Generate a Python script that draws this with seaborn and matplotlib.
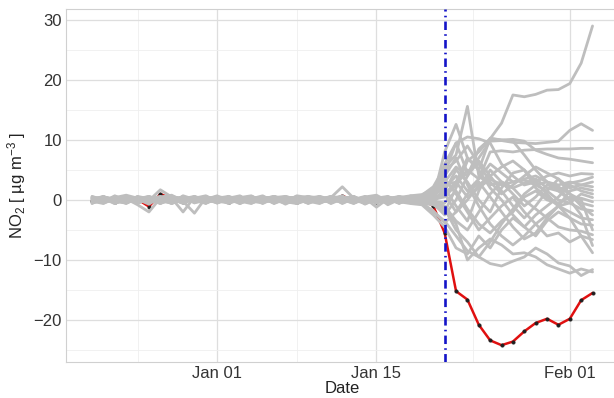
import pandas as pd
import matplotlib
matplotlib.use("Agg")
import matplotlib.pyplot as plt
import seaborn as sns

# ── Data ───────────────────────────────────────────────────────────────────────
dates = pd.date_range("2019-12-21", "2020-02-03", freq="D")
intervention_date = pd.Timestamp("2020-01-21")

x_tick_dates = ["2020-01-01 00:00", "2020-01-15 00:00", "2020-02-01 00:00"]
x_tick_labels = ["Jan 01", "Jan 15", "Feb 01"]
x_minor_dates = ["2019-12-25 00:00", "2020-01-08 00:00", "2020-01-23 12:00"]
y_ticks = [-20, -10, 0, 10, 20, 30]
y_minor = [-25, -15, -5, 5, 15, 25]

# treated city gap (red line), Dec 21 .. Feb 03
treated_gap = [
    -0.1, 0.2, -0.3, 0.4, 0.1, -1.1, 1.0, 0.2, -0.4, 0.3, -0.2,
    0.1, -0.3, 0.4, 0.0, -0.2, 0.3, 0.1, -0.4, 0.2, 0.0, -0.2, 0.7, -0.1,
    0.2, -0.3, 0.1, 0.2, -0.2, 0.1, -1.0,
    -5.5, -15.2, -16.6, -20.8, -23.4, -24.2, -23.6, -21.9, -20.5, -19.8,
    -20.8, -19.8, -16.7, -15.5,
]

# placebo gaps (grey lines): 30 pre values (Dec 21..Jan 19), Jan 20, then Jan 21..Feb 03
placebo_gaps = [
    [0.3, -0.2, 0.5, -0.4, 0.2, 0.6, -0.3, 0.1, -0.5, 0.4, 0.0, -0.3, 0.5, -0.2, 0.3,
     -0.4, 0.6, 0.1, -0.2, 0.4, -0.1, 0.3, -0.5, 0.2, 0.0, -0.3, 0.4, -0.2, 0.1, 0.3,
     0.8, 3.0, 5.5, 4.0, 8.5, 10.2, 12.8, 17.5, 17.2, 17.6, 18.3, 18.4, 19.4, 22.8, 29.0],
    [-0.4, 0.3, -0.1, 0.6, -0.5, 0.2, 0.4, -0.6, 0.3, -0.2, 0.5, 0.1, -0.4, 0.6, -0.3,
     0.2, -0.1, 0.5, -0.6, 0.0, 0.4, -0.3, 0.2, 0.6, -0.4, 0.1, -0.2, 0.5, -0.3, 0.2,
     1.2, 6.0, 9.5, 4.5, 7.0, 9.8, 9.9, 9.6, 9.5, 9.4, 9.6, 9.8, 11.6, 12.7, 11.6],
    [0.1, 0.5, -0.6, 0.2, -0.8, -2.0, 0.3, -0.4, 0.6, -0.2, 0.1, 0.7, -0.5, 0.3, -0.1,
     0.4, -0.6, 0.2, 0.5, -0.3, 0.6, 0.1, -0.4, 0.3, -0.7, 0.2, 0.4, -0.5, 0.0, -0.4,
     -0.5, 2.0, 4.0, 1.5, 3.5, 8.0, 8.2, 8.0, 8.3, 8.4, 8.5, 8.5, 8.5, 8.6, 8.6],
    [-0.2, -0.6, 0.4, 0.8, 0.3, -0.1, 1.7, 0.5, -0.3, 0.2, -0.5, 0.3, 0.6, -0.4, 0.1,
     0.5, 0.2, -0.3, 0.7, 0.4, -0.2, 0.6, 0.3, -0.1, 0.5, 0.8, -0.2, 0.3, 0.6, 0.2,
     0.3, 8.0, 12.6, 7.0, 5.0, 10.3, 10.0, 10.1, 9.8, 8.3, 7.6, 7.0, 6.8, 6.5, 6.2],
    [0.5, 0.1, -0.3, -0.5, 0.6, 0.2, -0.4, 0.3, -2.0, 0.5, -0.3, 0.2, -0.1, 0.4, 0.7,
     -0.3, 0.1, -0.5, 0.3, 0.6, -0.2, 0.4, 2.2, 0.3, -0.6, 0.1, 0.5, -0.2, 0.4, 0.8,
     2.2, 5.5, 7.5, 15.6, 4.0, 2.5, 3.0, 2.0, 2.8, 3.5, 2.0, 1.5, 2.8, 3.2, 3.8],
    [-0.6, 0.4, 0.2, -0.3, 0.1, -0.7, 0.5, 0.8, -0.2, -2.2, 0.4, -0.4, 0.3, 0.7, -0.5,
     0.1, 0.6, -0.3, -0.6, 0.2, 0.5, -0.4, 0.1, -0.6, 0.3, -1.2, 0.2, 0.6, -0.3, -0.5,
     -2.0, -3.5, -6.0, -8.5, -9.5, -10.6, -11.0, -10.2, -9.5, -8.0, -9.0, -10.5, -11.0, -12.6, -11.6],
    [0.2, -0.3, 0.7, -0.1, -0.4, 0.5, -0.6, 0.2, 0.4, -0.3, 0.6, -0.5, 0.1, -0.3, 0.5,
     0.2, -0.4, 0.6, 0.1, -0.5, 0.3, -0.2, 0.5, -0.4, 0.2, 0.6, -0.8, 0.1, 0.4, -0.2,
     0.0, -1.5, -4.0, -10.0, -8.0, -6.5, -7.5, -9.0, -8.8, -9.5, -10.8, -11.5, -12.2, -11.5, -12.0],
    [0.4, -0.5, 0.1, 0.3, -0.6, 0.4, 0.2, -0.5, 0.7, 0.1, -0.6, 0.5, 0.3, -0.2, -0.6,
     0.4, 0.3, -0.7, 0.2, 0.5, -0.3, 0.1, 0.7, -0.5, 0.4, -0.2, 0.3, -0.6, 0.5, 0.1,
     0.5, 4.5, 9.5, 10.5, 10.2, 9.5, 6.0, 4.0, 2.5, 3.0, 1.0, -1.0, -3.0, -6.0, -8.8],
    [-0.3, 0.6, -0.2, 0.1, 0.5, -0.4, 0.3, -0.1, 0.2, 0.6, -0.4, 0.0, 0.5, -0.6, 0.2,
     0.7, -0.3, 0.1, -0.4, 0.3, 0.6, -0.2, 0.0, 0.4, -0.5, 0.3, 0.1, -0.4, 0.2, -0.6,
     -0.8, -2.0, 2.0, 6.5, 8.0, 10.2, 10.0, 9.8, 7.5, 5.0, 3.0, 1.5, 0.0, -2.5, -7.6],
    [0.6, 0.0, 0.3, -0.5, 0.2, 0.4, -0.3, 0.5, -0.1, 0.3, 0.7, -0.2, -0.5, 0.2, 0.4,
     -0.6, 0.3, 0.5, -0.1, -0.4, 0.2, 0.5, -0.3, 0.1, 0.6, -0.4, 0.2, 0.5, -0.1, 0.4,
     1.0, 3.5, 1.0, -2.0, -5.0, -3.0, -1.0, 0.5, -2.0, -4.0, -6.0, -5.5, -7.0, -6.0, -6.6],
    [-0.1, 0.4, -0.5, 0.3, 0.0, 0.6, -0.2, -0.5, 0.4, 0.1, -0.3, 0.6, 0.2, -0.4, 0.0,
     0.3, -0.5, 0.4, 0.2, -0.2, -0.6, 0.3, 0.1, -0.3, 0.5, 0.0, -0.5, 0.2, 0.4, -0.1,
     -0.3, -1.0, -3.5, -5.0, -2.0, 1.0, 3.0, 2.0, 0.0, -1.5, -3.0, -4.5, -5.0, -5.2, -5.8],
    [0.2, 0.5, 0.1, -0.6, 0.4, -0.3, 0.2, 0.6, -0.2, 0.5, -0.1, 0.3, -0.6, 0.1, 0.5,
     -0.2, 0.0, 0.4, -0.5, 0.3, 0.1, 0.6, -0.4, 0.2, -0.1, 0.5, -0.3, 0.0, 0.6, 0.1,
     0.6, 2.5, 3.0, 0.5, 2.0, 3.5, 2.5, 3.0, 3.3, 2.5, 3.0, 2.2, 1.0, 0.0, -5.0],
    [-0.5, -0.1, 0.4, 0.2, -0.3, 0.1, -0.6, 0.4, 0.3, -0.4, 0.2, -0.1, 0.4, -0.5, 0.3,
     -0.2, 0.5, -0.6, 0.3, 0.1, -0.4, 0.2, 0.5, -0.2, -0.4, 0.3, 0.6, -0.3, -0.6, -0.8,
     -2.5, -4.5, -8.0, -9.0, -6.0, -8.0, -5.0, -3.0, -4.5, -6.0, -3.5, -2.0, -3.0, -4.0, -4.2],
    [0.3, -0.4, 0.2, 0.5, -0.2, 0.3, 0.0, -0.3, 0.5, -0.5, 0.2, 0.4, -0.3, 0.1, -0.4,
     0.5, 0.2, -0.2, 0.4, -0.3, 0.0, 0.5, -0.6, 0.3, 0.1, -0.4, 0.5, 0.2, -0.3, 0.3,
     0.2, 1.5, 5.0, 3.0, 0.0, -2.0, 2.0, 4.5, 5.0, 2.0, 0.5, -1.0, -2.0, -3.0, -3.3],
    [-0.2, 0.2, -0.4, 0.0, 0.5, -0.5, 0.1, 0.3, -0.6, 0.2, 0.5, -0.3, 0.0, 0.4, -0.2,
     -0.5, 0.4, 0.0, -0.3, 0.5, 0.2, -0.5, 0.3, 0.5, -0.1, 0.2, -0.4, 0.4, 0.1, -0.3,
     -0.6, -2.5, 0.0, 4.0, 6.5, 4.0, 1.5, -1.0, -3.0, -1.0, 1.5, 3.5, 1.0, -1.0, -2.5],
    [0.5, -0.3, 0.6, -0.2, 0.3, 0.1, -0.4, 0.6, 0.2, -0.3, 0.1, -0.5, 0.4, 0.2, 0.6,
     -0.1, -0.3, 0.5, 0.3, -0.4, 0.4, 0.0, -0.2, 0.6, -0.3, 0.4, 0.1, -0.5, 0.7, 0.5,
     1.5, 4.0, 7.0, 2.5, -1.0, -4.0, -6.0, -7.5, -6.0, -4.0, -2.5, -1.0, -0.5, -1.5, -1.8],
    [-0.4, 0.1, -0.2, 0.4, -0.6, 0.5, 0.3, -0.2, 0.1, 0.4, -0.2, 0.2, -0.5, 0.5, 0.0,
     0.3, -0.2, -0.4, 0.6, 0.1, -0.3, 0.2, 0.4, -0.3, 0.3, -0.5, 0.3, 0.1, -0.2, 0.0,
     -0.2, -0.5, 1.5, -1.5, -4.0, -5.5, -3.5, -2.0, 0.5, 1.5, 0.0, -0.5, 0.5, -0.5, -1.0],
    [0.1, 0.6, -0.5, 0.1, 0.4, -0.2, 0.5, -0.3, 0.3, 0.0, 0.4, -0.4, 0.6, -0.1, 0.3,
     0.1, 0.5, -0.2, -0.5, 0.6, 0.3, -0.1, 0.4, 0.0, 0.5, 0.3, -0.2, 0.6, 0.2, 0.5,
     0.8, 2.0, -1.0, -3.5, 1.5, 5.0, 3.0, 1.0, -1.0, 0.5, 2.5, 2.0, 0.0, 0.3, -0.3],
    [0.0, -0.4, 0.3, -0.3, 0.1, 0.4, -0.5, 0.0, 0.5, -0.4, -0.2, 0.3, 0.1, -0.6, 0.4,
     0.0, -0.3, 0.2, 0.5, -0.5, 0.1, -0.4, 0.3, -0.2, 0.4, -0.1, 0.0, -0.4, 0.3, -0.2,
     -0.4, -1.5, -5.0, -7.0, -9.5, -7.0, -4.0, -1.5, 1.0, 2.5, 1.5, 0.0, -0.5, 1.0, 0.4],
    [-0.3, 0.3, 0.0, 0.5, -0.4, 0.2, 0.6, -0.1, -0.4, 0.4, 0.2, -0.5, 0.3, 0.2, -0.3,
     0.4, 0.1, -0.5, 0.0, 0.4, -0.2, 0.3, 0.6, -0.4, 0.0, 0.4, -0.2, 0.2, 0.5, 0.1,
     0.4, 1.0, 3.0, 7.0, 5.0, 2.0, 0.0, -2.5, -4.5, -2.5, -1.0, 0.5, 2.5, 1.5, 1.0],
    [0.4, -0.1, 0.5, -0.3, -0.1, 0.3, 0.1, -0.6, 0.2, 0.5, -0.5, 0.1, 0.3, -0.3, 0.6,
     -0.4, 0.2, 0.3, -0.2, 0.1, 0.5, -0.6, 0.2, 0.3, -0.2, 0.0, 0.5, -0.4, -0.1, -0.6,
     -1.8, -3.8, -2.0, 1.0, 3.0, 0.5, -2.0, -4.5, -6.5, -5.5, -3.0, -1.0, 1.5, 2.0, 1.6],
    [-0.1, 0.2, -0.6, 0.4, 0.3, -0.1, 0.0, 0.4, -0.2, 0.1, 0.3, -0.3, 0.5, 0.3, -0.5,
     0.2, 0.6, -0.1, 0.3, -0.6, 0.2, 0.4, 0.0, -0.5, 0.2, 0.5, -0.1, 0.3, -0.5, 0.4,
     0.1, 0.5, 2.5, 5.0, 3.5, 6.0, 4.5, 3.0, 3.5, 4.0, 3.0, 2.5, 3.0, 2.5, 2.2],
    [0.3, 0.0, 0.2, -0.4, 0.5, 0.0, -0.2, 0.4, 0.1, -0.1, 0.3, 0.5, -0.2, 0.2, 0.1,
     -0.3, 0.4, 0.6, -0.3, 0.2, -0.5, 0.1, 0.3, 0.4, -0.3, 0.2, 0.1, 0.4, 0.7, 0.9,
     1.8, 5.0, 6.5, 9.0, 6.0, 3.0, 1.0, 2.5, 4.0, 5.5, 4.5, 3.5, 2.0, 2.5, 3.0],
    [-0.5, 0.5, 0.1, -0.1, -0.2, 0.3, -0.3, 0.1, -0.5, 0.6, 0.0, -0.1, 0.2, 0.4, -0.4,
     0.3, -0.5, 0.1, 0.2, 0.3, -0.1, -0.3, 0.5, 0.1, -0.5, 0.4, -0.3, 0.0, 0.3, -0.4,
     -0.1, 1.0, -2.0, 0.0, 2.5, 4.0, 5.5, 6.5, 5.0, 3.0, 4.0, 4.5, 4.0, 4.4, 4.3],
]

# ── Long-form frames ───────────────────────────────────────────────────────────
placebo_df = pd.concat(
    [pd.DataFrame({"date": dates, "gap": g, "unit": i}) for i, g in enumerate(placebo_gaps)],
    ignore_index=True,
)
treated_df = pd.DataFrame({"date": dates, "gap": treated_gap})

# ── Style ──────────────────────────────────────────────────────────────────────
sns.set_theme(style="whitegrid")
plt.rcParams["font.family"] = ["Liberation Sans", "DejaVu Sans"]
plt.rcParams["mathtext.fontset"] = "custom"
plt.rcParams["mathtext.rm"] = "Liberation Sans"
plt.rcParams["mathtext.default"] = "regular"

fig = plt.figure(figsize=(6.14, 3.98), dpi=100)
ax = fig.add_axes([0.1075, 0.0905, 0.900, 0.888])

sns.lineplot(data=treated_df, x="date", y="gap", color="#E01010", lw=1.8,
             ax=ax, zorder=2)
sns.scatterplot(data=treated_df, x="date", y="gap", color="#202020", s=7,
                edgecolor=None, ax=ax, zorder=2)
sns.lineplot(data=placebo_df, x="date", y="gap", units="unit", estimator=None,
             color="#BEBEBE", lw=2.0, ax=ax, zorder=3)
ax.axvline(intervention_date, color="#1414C8", lw=1.9,
           dashes=(3.2, 1.6, 0.6, 1.6), zorder=4)

# ── Axes ───────────────────────────────────────────────────────────────────────
ax.set_xlim(pd.Timestamp("2019-12-18 17:00"), pd.Timestamp("2020-02-05 07:00"))
ax.set_ylim(-27, 31.9)
ax.set_xticks(pd.to_datetime(x_tick_dates, format="%Y-%m-%d %H:%M"))
ax.set_xticklabels(x_tick_labels)
ax.set_xticks(pd.to_datetime(x_minor_dates, format="%Y-%m-%d %H:%M"), minor=True)
ax.set_yticks(y_ticks)
ax.set_yticks(y_minor, minor=True)

ax.grid(which="major", color="#DEDEDE", lw=0.9)
ax.grid(which="minor", color="#EFEFEF", lw=0.6)
ax.tick_params(which="both", length=0, labelsize=12, labelcolor="#333333", pad=3)
for sp in ax.spines.values():
    sp.set_color("#D0D0D0")
    sp.set_linewidth(0.8)

ax.set_xlabel("Date", fontsize=12, labelpad=0, color="#222222")
ax.set_ylabel("NO$_2$ [ µg m$^{-3}$ ]", fontsize=12, labelpad=4, color="#222222")

fig.savefig("out.png", dpi=100)
